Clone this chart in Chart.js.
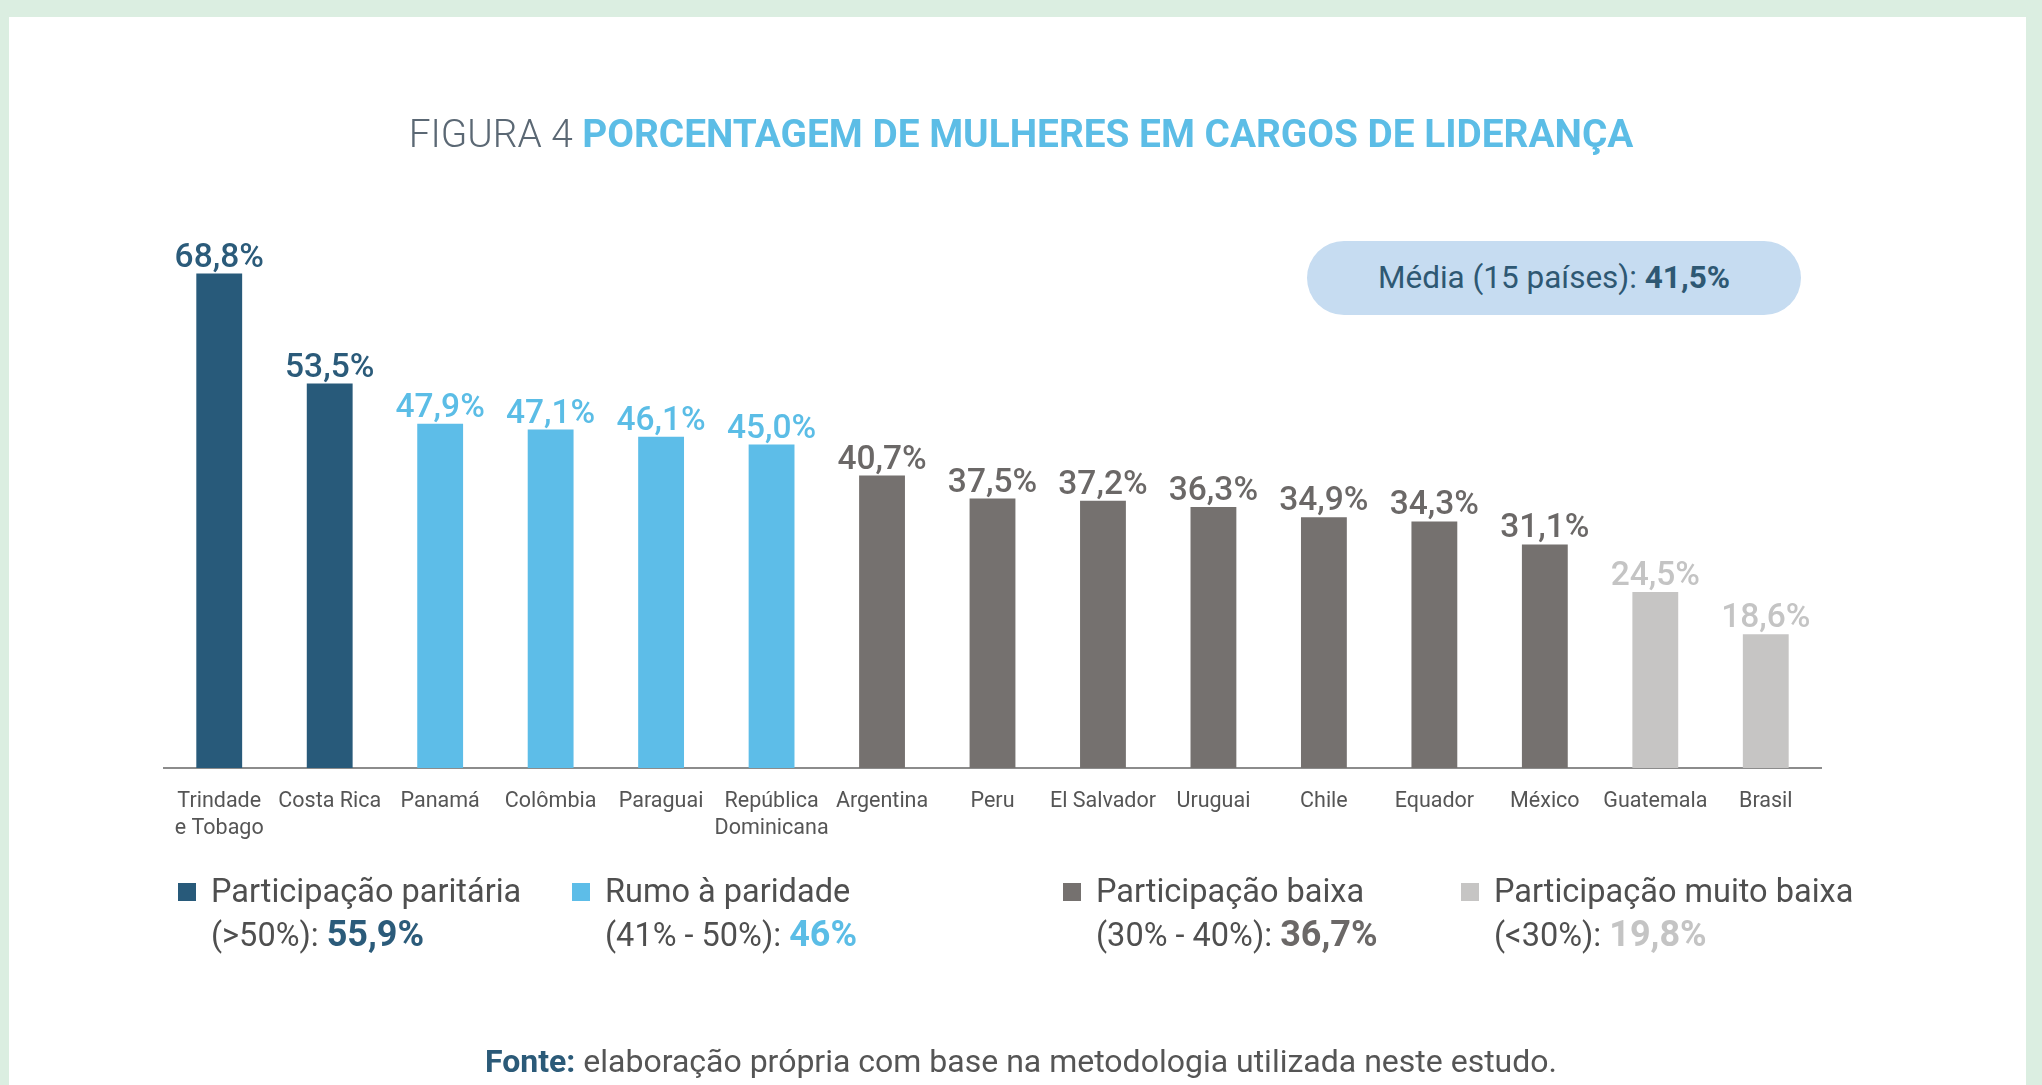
<!DOCTYPE html>
<html>
<head>
<meta charset="utf-8">
<script src="https://cdn.jsdelivr.net/npm/chart.js@4.4.1/dist/chart.umd.min.js"></script>
<style>
  body { margin: 0; background: #dbeee1; font-family: Roboto, "Open Sans", sans-serif; }
  #page { position: relative; width: 2042px; height: 1085px; overflow: hidden; }
  #panel { position: absolute; left: 9px; top: 17px; width: 2017px; height: 1068px; background: #fff; }
  #chart { position: absolute; left: 0; top: 0; }
  .abs { position: absolute; white-space: nowrap; }
  #title { left: 0; width: 2042px; top: 111px; text-align: center; font-size: 38.8px; line-height: 46px; }
  #title .pre { color: #5b6874; font-weight: 300; }
  #title .main { color: #5cbde6; font-weight: 700; }
  #media { left: 1307px; top: 241px; width: 494px; height: 74px; border-radius: 37px; background: #c6dcf1;
           text-align: center; line-height: 74px; font-size: 31.5px; color: #2e5873; }
  .leg { font-size: 32.5px; color: #4f4f4f; line-height: 43px; }
  .leg .sq { position: absolute; width: 18px; height: 18px; left: -33px; top: 13px; }
  .leg .val { font-weight: 700; font-size: 36px; }
  #fonte { left: 0; width: 2042px; top: 1041px; text-align: center; font-size: 32px; line-height: 40px; color: #555; }
  #fonte b { color: #2b5a78; }
</style>
</head>
<body>
<div id="page">
  <div id="panel"></div>
  <canvas id="chart" width="2042" height="1085"></canvas>
  <div id="title" class="abs"><span class="pre">FIGURA 4 </span><span class="main">PORCENTAGEM DE MULHERES EM CARGOS DE LIDERANÇA</span></div>
  <div id="media" class="abs">Média (15 países): <b>41,5%</b></div>
  <div id="legend"></div>
  <div id="fonte" class="abs"><b>Fonte:</b> elaboração própria com base na metodologia utilizada neste estudo.</div>
</div>
<script>
// dados
var paises = [['Trindade', 'e Tobago'], 'Costa Rica', 'Panamá', 'Colômbia', 'Paraguai', ['República', 'Dominicana'],
  'Argentina', 'Peru', 'El Salvador', 'Uruguai', 'Chile', 'Equador', 'México', 'Guatemala', 'Brasil'];
var valores = [68.8, 53.5, 47.9, 47.1, 46.1, 45.0, 40.7, 37.5, 37.2, 36.3, 34.9, 34.3, 31.1, 24.5, 18.6];
var grupos = [0, 0, 1, 1, 1, 1, 2, 2, 2, 2, 2, 2, 2, 3, 3];

var grupoNomes = ['Participação paritária', 'Rumo à paridade', 'Participação baixa', 'Participação muito baixa'];
var grupoFaixas = ['(>50%):', '(41% - 50%):', '(30% - 40%):', '(<30%):'];
var grupoMedias = ['55,9%', '46%', '36,7%', '19,8%'];

var corBarra = ['#285a7a', '#5dbde8', '#75716f', '#c6c5c4'];
var corRotulo = ['#2b5b7a', '#5bbde6', '#6b6867', '#c4c4c4'];

function fmt(v) {
  return v.toFixed(1).replace('.', ',') + '%';
}

// legenda (html)
var legX = [211, 605, 1096, 1494];
var legHtml = '';
for (var g = 0; g < 4; g++) {
  legHtml += '<div class="abs leg" style="left:' + legX[g] + 'px;top:870px">' +
    '<span class="sq" style="background:' + corBarra[g] + '"></span>' + grupoNomes[g] + '<br>' +
    grupoFaixas[g] + ' <span class="val" style="color:' + corRotulo[g] + '">' + grupoMedias[g] + '</span></div>';
}
document.getElementById('legend').innerHTML = legHtml;

// rotulos em cima das barras
var rotulos = {
  id: 'rotulos',
  afterDatasetsDraw: function(chart) {
    var ctx = chart.ctx;
    var meta = chart.getDatasetMeta(0);
    ctx.save();
    ctx.font = '500 33.5px Roboto';
    ctx.textAlign = 'center';
    ctx.textBaseline = 'alphabetic';
    meta.data.forEach(function(bar, i) {
      ctx.fillStyle = corRotulo[grupos[i]];
      ctx.fillText(fmt(valores[i]), bar.x, bar.y - 7);
    });
    ctx.restore();
  }
};

var ctx = document.getElementById('chart').getContext('2d');
var grafico = new Chart(ctx, {
  type: 'bar',
  data: {
    labels: paises,
    datasets: [{
      data: valores,
      backgroundColor: grupos.map(function(g) { return corBarra[g]; }),
      barPercentage: 0.415,
      categoryPercentage: 1.0
    }]
  },
  options: {
    responsive: false,
    animation: false,
    layout: { padding: { left: 164, right: 221, top: 229, bottom: 237 } },
    scales: {
      y: { display: false, min: 0, max: 75 },
      x: {
        grid: { display: false, drawTicks: false },
        border: { display: true, color: '#8c8c8c', width: 2 },
        ticks: {
          autoSkip: false, maxRotation: 0, minRotation: 0,
          padding: 20,
          color: '#555555',
          font: { family: 'Roboto', size: 21.5, lineHeight: 1.25 }
        },
        afterFit: function(scale) { scale.height = 80; }
      }
    },
    plugins: {
      legend: { display: false },
      tooltip: { enabled: false }
    }
  },
  plugins: [rotulos]
});
</script>
</body>
</html>
